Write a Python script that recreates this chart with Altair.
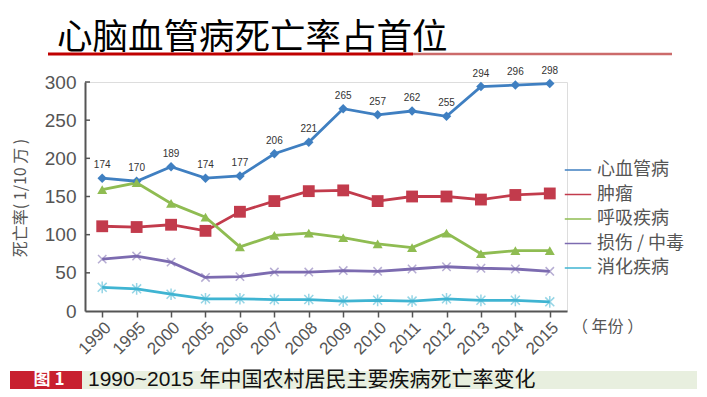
import altair as alt
import pandas as pd

years = ["1990", "1995", "2000", "2005", "2006", "2007", "2008",
         "2009", "2010", "2011", "2012", "2013", "2014", "2015"]
series_names = ["心血管病", "肿瘤", "呼吸疾病", "损伤 / 中毒", "消化疾病"]
cardio = [174, 170, 189, 174, 177, 206, 221, 265, 257, 262, 255, 294, 296, 298]
tumor = [111, 110, 113, 105, 130, 144, 157, 158, 144, 150, 150, 146, 152, 154]
resp = [159, 168, 141, 123, 84, 99, 102, 96, 88, 83, 102, 75, 79, 79]
injury = [68, 72, 64, 44, 45, 51, 51, 53, 52, 55, 58, 56, 55, 52]
digest = [31, 29, 22, 16, 16, 15, 15, 13, 14, 13, 16, 14, 14, 12]
y_ticks = [0, 50, 100, 150, 200, 250, 300]

colors = ["#3f7fc1", "#c23b4c", "#8fbc52", "#7c6bb0", "#3fb4d2"]
shapes = ["diamond", "square", "triangle-up",
          "M-1,-1L1,1M-1,1L1,-1",
          "M-1,-1L1,1M-1,1L1,-1M0,-1.3L0,1.3"]
sizes = [90, 140, 100, 70, 80]

all_values = [cardio, tumor, resp, injury, digest]
rows = []
for name, vals in zip(series_names, all_values):
    for yr, v in zip(years, vals):
        rows.append({"year": yr, "series": name, "value": v})
df = pd.DataFrame(rows)

FONT = "Liberation Sans, Noto Sans CJK SC"
CJK = "Noto Sans CJK SC"
AX = "#555555"

x_axis = alt.Axis(title=None, labelAngle=-45, labelFontSize=17,
                  labelColor=AX, labelFont=FONT, domainColor=AX,
                  domainWidth=2, tickColor=AX, tickSize=6,
                  tickWidth=1.5, labelPadding=2, grid=False,
                  labelOverlap=False)
y_axis = alt.Axis(title=None, values=y_ticks, labelFontSize=19,
                  labelColor=AX, labelFont=FONT, domainColor=AX,
                  domainWidth=2, ticks=False, grid=False,
                  labelPadding=9, labelOverlap=False)
x_scale = alt.Scale(type="point", padding=0.5, domain=years)
y_scale = alt.Scale(domain=[0, 300], nice=False)


def xe():
    return alt.X("year:O", sort=years, scale=x_scale, axis=x_axis)


def ye():
    return alt.Y("value:Q", scale=y_scale, axis=y_axis)


color_enc = alt.Color("series:N", sort=series_names,
                      scale=alt.Scale(domain=series_names, range=colors),
                      legend=alt.Legend(title=None, orient="none",
                                        legendX=479, legendY=74,
                                        symbolType="stroke", symbolSize=700,
                                        symbolStrokeWidth=1.5,
                                        labelFontSize=18, labelColor=AX,
                                        labelFont=CJK, rowPadding=1.5,
                                        labelLimit=300, labelOffset=5))

lines = alt.Chart(df).mark_line(strokeWidth=2.8).encode(
    x=xe(), y=ye(), color=color_enc, detail="series:N")

layers = [lines]
for i, name in enumerate(series_names):
    sub = df[df["series"] == name]
    if i < 3:
        m = alt.Chart(sub).mark_point(filled=True, shape=shapes[i],
                                      size=sizes[i], opacity=1,
                                      color=colors[i])
    else:
        m = alt.Chart(sub).mark_point(filled=False, shape=shapes[i],
                                      size=sizes[i], opacity=0.55,
                                      strokeWidth=1.5, color=colors[i])
    layers.append(m.encode(x=xe(), y=ye()))

labels = alt.Chart(df[df["series"] == series_names[0]]).mark_text(
    dy=-13, fontSize=10, color="#333333", font=FONT).encode(
    x=xe(), y=ye(), text="value:Q")
layers.append(labels)

# inward y ticks
tick_df = pd.DataFrame({"value": y_ticks[1:]})
yticks = alt.Chart(tick_df).mark_rule(color=AX, strokeWidth=1.5).encode(
    x=alt.value(0), x2=alt.value(5), y=ye())
layers.append(yticks)

one = pd.DataFrame({"a": [0]})
deco = []
deco.append(alt.Chart(one).mark_text(
    text="心脑血管病死亡率占首位", fontSize=35.5, font=CJK, color="#000000",
    align="left", baseline="middle").encode(x=alt.value(-28), y=alt.value(-44)))
deco.append(alt.Chart(one).mark_rule(color="#c00000", strokeWidth=3).encode(
    x=alt.value(-37), x2=alt.value(328), y=alt.value(-28)))
deco.append(alt.Chart(one).mark_rule(color="#cc6b6b", strokeWidth=2.5).encode(
    x=alt.value(328), x2=alt.value(587), y=alt.value(-28)))
deco.append(alt.Chart(one).mark_text(
    text="死亡率( 1/10 万 )", fontSize=16, font=CJK, color=AX, angle=270,
    align="center", baseline="middle").encode(x=alt.value(-64), y=alt.value(116)))
deco.append(alt.Chart(one).mark_text(
    text="（ 年份 ）", fontSize=16, font=CJK, color=AX,
    align="left", baseline="middle").encode(x=alt.value(487), y=alt.value(245)))
deco.append(alt.Chart(one).mark_rect(color="#e8efdf").encode(
    x=alt.value(-75), x2=alt.value(612), y=alt.value(289), y2=alt.value(307)))
deco.append(alt.Chart(one).mark_rect(color="#c8202f").encode(
    x=alt.value(-75), x2=alt.value(-3), y=alt.value(289), y2=alt.value(307)))
deco.append(alt.Chart(one).mark_text(
    text="图 1", fontSize=17, font=CJK, color="#ffffff", fontWeight="bold",
    align="center", baseline="middle").encode(x=alt.value(-36), y=alt.value(298)))
deco.append(alt.Chart(one).mark_text(
    text="1990~2015 年中国农村居民主要疾病死亡率变化", fontSize=21, font=FONT,
    color="#111111", align="left", baseline="middle").encode(
    x=alt.value(3), y=alt.value(297.5)))

chart = alt.layer(*(layers + deco)).properties(
    width=482, height=229,
    autosize=alt.AutoSizeParams(type="none"),
    padding={"left": 77, "top": 74, "right": 132, "bottom": 78},
).configure_view(stroke=None).configure(background="#ffffff")

chart.save("out.html", embed_options={"renderer": "svg", "actions": False})
